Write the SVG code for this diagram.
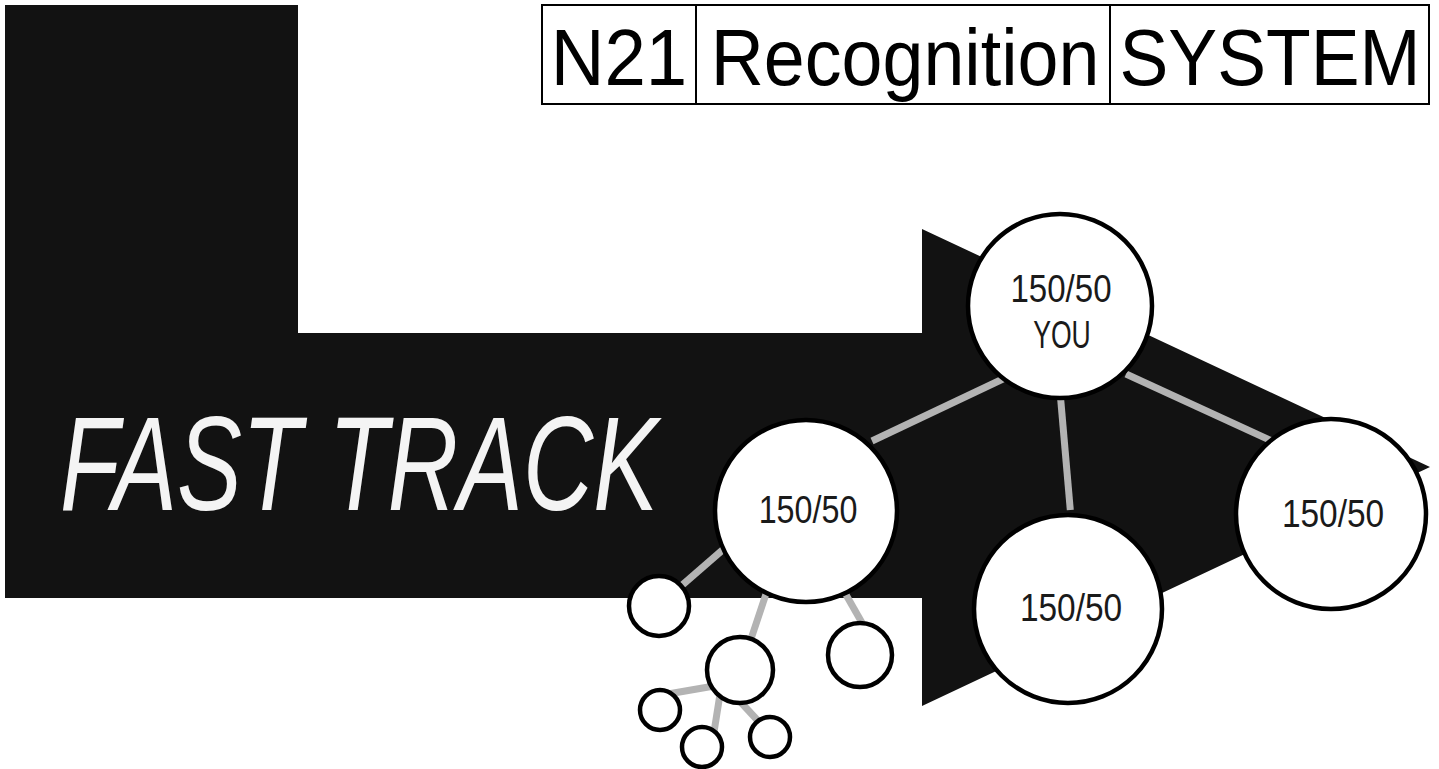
<svg xmlns="http://www.w3.org/2000/svg" width="1439" height="769" viewBox="0 0 1439 769">
<style>
.node{fill:#fff;stroke:#000;stroke-width:4.5}
.small{fill:#fff;stroke:#000;stroke-width:4.5}
.lbl{font-family:"Liberation Sans",Arial,sans-serif;font-size:38px;fill:#1a1a1a;text-anchor:middle}
.hdr{font-family:"Liberation Sans",Arial,sans-serif;font-size:80px;fill:#000;text-anchor:middle}
.conn line{stroke:#b3b3b3;stroke-width:7;stroke-linecap:butt}
</style>
<rect width="1439" height="769" fill="#fff"/>
<g id="arrow">
<path d="M5,5 H298 V333 H922 V229 L1430,467 L922,706 V598 H5 Z" fill="#121212"/>
<text transform="translate(60,510) scale(0.726,1)" x="0" y="0" font-family="'Liberation Sans',Arial,sans-serif" font-style="italic" font-size="134" fill="#f4f4f4">FAST TRACK</text>
</g>
<g id="header">
<rect x="542" y="5" width="887" height="99" fill="#fff" stroke="#000" stroke-width="2"/>
<line x1="696" y1="5" x2="696" y2="104" stroke="#000" stroke-width="2"/>
<line x1="1110" y1="5" x2="1110" y2="104" stroke="#000" stroke-width="2"/>
<text class="hdr" transform="translate(619,85) scale(0.93,1)">N21</text>
<text class="hdr" transform="translate(905,85) scale(0.92,1)">Recognition</text>
<text class="hdr" transform="translate(1270,85) scale(0.915,1)">SYSTEM</text>
</g>
<g id="connectors" class="conn">
<line x1="1005" y1="378" x2="872" y2="441"/>
<line x1="1060.4" y1="396" x2="1070.3" y2="510"/>
<line x1="1126" y1="374" x2="1272" y2="441"/>
<line x1="726" y1="547" x2="680" y2="587"/>
<line x1="766" y1="594" x2="750" y2="642"/>
<line x1="845" y1="593" x2="865" y2="628"/>
<line x1="720" y1="685" x2="668" y2="694"/>
<line x1="721" y1="688" x2="714" y2="732"/>
<line x1="735" y1="696" x2="760" y2="723"/>
</g>
<g id="node-you">
<circle class="node" cx="1060" cy="306" r="92"/>
<text class="lbl" transform="translate(1061,302) scale(0.87,1)">150/50</text>
<text class="lbl" transform="translate(1062,348) scale(0.7,1)">YOU</text>
</g>
<g id="node-left">
<circle class="node" cx="806" cy="511" r="91"/>
<text class="lbl" transform="translate(808,523) scale(0.85,1)">150/50</text>
</g>
<g id="node-bottom">
<circle class="node" cx="1068" cy="609" r="94"/>
<text class="lbl" transform="translate(1071,621) scale(0.88,1)">150/50</text>
</g>
<g id="node-right">
<circle class="node" cx="1331" cy="514" r="95"/>
<text class="lbl" transform="translate(1333,527) scale(0.88,1)">150/50</text>
</g>
<g id="node-a"><circle class="small" cx="659" cy="606" r="30"/></g>
<g id="node-b"><circle class="small" cx="740" cy="670" r="33"/></g>
<g id="node-c"><circle class="small" cx="860" cy="655" r="32"/></g>
<g id="node-d"><circle class="small" cx="660" cy="710" r="20"/></g>
<g id="node-e"><circle class="small" cx="702" cy="747" r="20"/></g>
<g id="node-f"><circle class="small" cx="770" cy="737" r="20"/></g>
</svg>
